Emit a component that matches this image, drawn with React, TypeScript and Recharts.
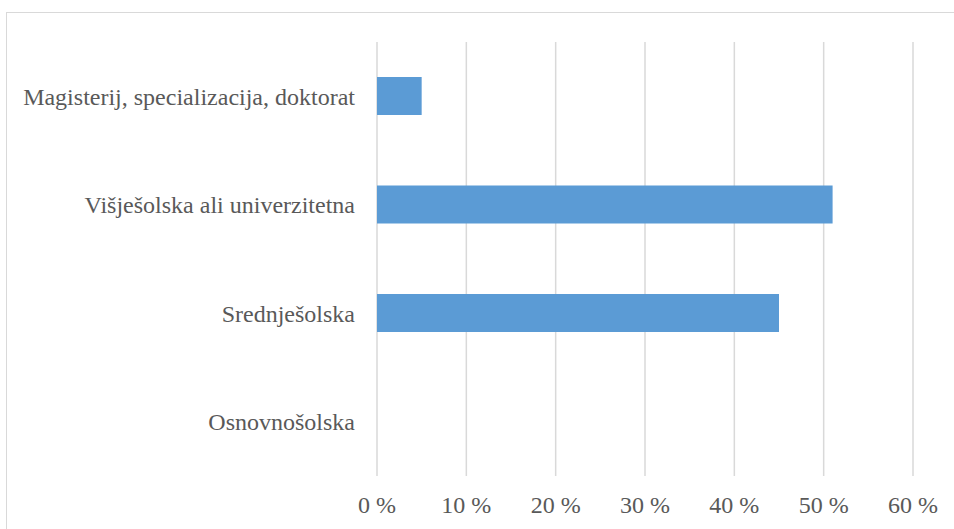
import React from "react";
import { BarChart, Bar, XAxis, YAxis, CartesianGrid } from "recharts";

// education levels, top to bottom
const categories = [
  "Magisterij, specializacija, doktorat",
  "Višješolska ali univerzitetna",
  "Srednješolska",
  "Osnovnošolska",
];
const shares = [5, 51, 45, 0];
const xTicks = [0, 10, 20, 30, 40, 50, 60];

const data = categories.map((name, i) => ({ name, value: shares[i] }));

const textStyle = { fontFamily: "'Liberation Serif', serif", fontSize: 24, fill: "#595959" };

// custom ticks so the serif face is applied for sure
const XTick = ({ x, y, payload }: any) => (
  <text x={x} y={y} dy="0.71em" textAnchor="middle" style={textStyle}>
    {`${payload.value} %`}
  </text>
);

const YTick = ({ x, y, payload }: any) => (
  <text x={x} y={y} dy="0.355em" textAnchor="end" style={textStyle}>
    {payload.value}
  </text>
);

export default function App() {
  return (
    <div>
      {/* chart frame: only left and top edges fall inside the window */}
      <div
        style={{
          position: "absolute",
          left: 6,
          top: 12,
          width: 948,
          height: 517,
          borderLeft: "1px solid #d9d9d9",
          borderTop: "1px solid #d9d9d9",
          boxSizing: "border-box",
        }}
      />
      <div style={{ position: "absolute", left: 0, top: 0, width: 954, height: 529 }}>
        <BarChart
          width={954}
          height={529}
          data={data}
          layout="vertical"
          margin={{ top: 42, right: 41, left: 0, bottom: 0 }}
          barSize={38}
        >
          <CartesianGrid horizontal={false} stroke="#d9d9d9" strokeWidth={1.5} />
          <XAxis
            type="number"
            domain={[0, 60]}
            ticks={xTicks}
            tick={<XTick />}
            axisLine={false}
            tickLine={false}
            tickSize={0}
            tickMargin={20}
            height={53}
            interval={0}
          />
          <YAxis
            type="category"
            dataKey="name"
            tick={<YTick />}
            axisLine={false}
            tickLine={false}
            tickSize={0}
            tickMargin={22}
            width={377}
            interval={0}
          />
          <Bar dataKey="value" fill="#5b9bd5" isAnimationActive={false} />
        </BarChart>
      </div>
    </div>
  );
}
